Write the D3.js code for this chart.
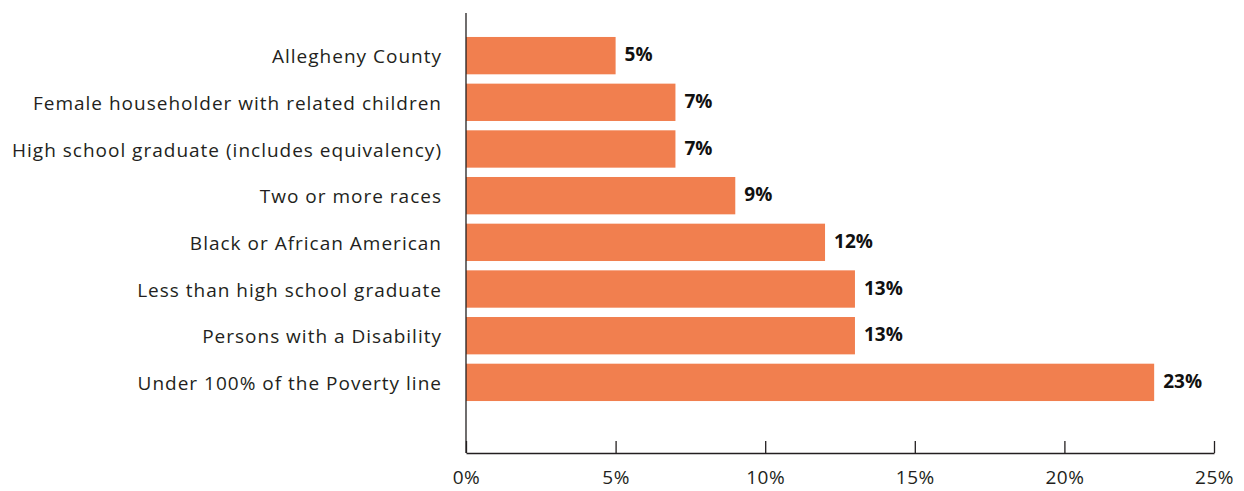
<!DOCTYPE html>
<html>
<head>
<meta charset="utf-8">
<script src="https://cdn.jsdelivr.net/npm/d3@7"></script>
<style>
  html, body { margin: 0; padding: 0; background: #fff; }
  svg { display: block; }
</style>
</head>
<body>
<svg id="chart" width="1244" height="491"></svg>
<script>
const categories = [
  "Allegheny County",
  "Female householder with related children",
  "High school graduate (includes equivalency)",
  "Two or more races",
  "Black or African American",
  "Less than high school graduate",
  "Persons with a Disability",
  "Under 100% of the Poverty line"
];
const values = [5, 7, 7, 9, 12, 13, 13, 23];
const tickValues = [0, 5, 10, 15, 20, 25];

const svg = d3.select("#chart");
const font = "'Open Sans', sans-serif";
const ink = "#231f20";

const x = d3.scaleLinear().domain([0, 25]).range([466, 1214]);
const y = d3.scaleBand()
  .domain(categories)
  .range([32.3, 405.7])
  .paddingInner(0.2)
  .paddingOuter(0.1);

const axisTop = 13, axisBottom = 453;

// bars
svg.append("g").selectAll("rect")
  .data(values)
  .join("rect")
  .attr("x", x(0))
  .attr("y", (d, i) => y(categories[i]))
  .attr("width", d => x(d) - x(0))
  .attr("height", y.bandwidth())
  .attr("fill", "#f17f4f");

// value labels
svg.append("g").selectAll("text")
  .data(values)
  .join("text")
  .attr("x", d => x(d) + 9)
  .attr("y", (d, i) => y(categories[i]) + y.bandwidth() / 2)
  .attr("dy", "0.3em")
  .attr("font-family", font)
  .attr("font-weight", 700)
  .attr("font-size", 19)
  .attr("fill", "#111")
  .text(d => d + "%");

// category labels
svg.append("g").selectAll("text")
  .data(categories)
  .join("text")
  .attr("x", 442)
  .attr("y", d => y(d) + y.bandwidth() / 2 + 1)
  .attr("dy", "0.35em")
  .attr("text-anchor", "end")
  .attr("font-family", font)
  .attr("font-size", 19)
  .attr("letter-spacing", 1)
  .attr("fill", ink)
  .text(d => d);

// vertical axis line
svg.append("line")
  .attr("x1", x(0)).attr("x2", x(0))
  .attr("y1", axisTop).attr("y2", axisBottom)
  .attr("stroke", ink).attr("stroke-width", 1.3);

// bottom axis with inward ticks
const xAxis = d3.axisBottom(x)
  .tickValues(tickValues)
  .tickSize(-12)
  .tickSizeOuter(0)
  .tickPadding(18)
  .tickFormat(d => d + "%");

const gx = svg.append("g")
  .attr("transform", `translate(0,${axisBottom})`)
  .call(xAxis);
gx.select(".domain").attr("stroke", ink).attr("stroke-width", 1.3);
gx.selectAll(".tick line").attr("stroke", ink).attr("stroke-width", 1.3);
gx.selectAll(".tick text")
  .attr("font-family", font)
  .attr("font-size", 19)
  .attr("letter-spacing", 0.5)
  .attr("fill", ink);
</script>
</body>
</html>
